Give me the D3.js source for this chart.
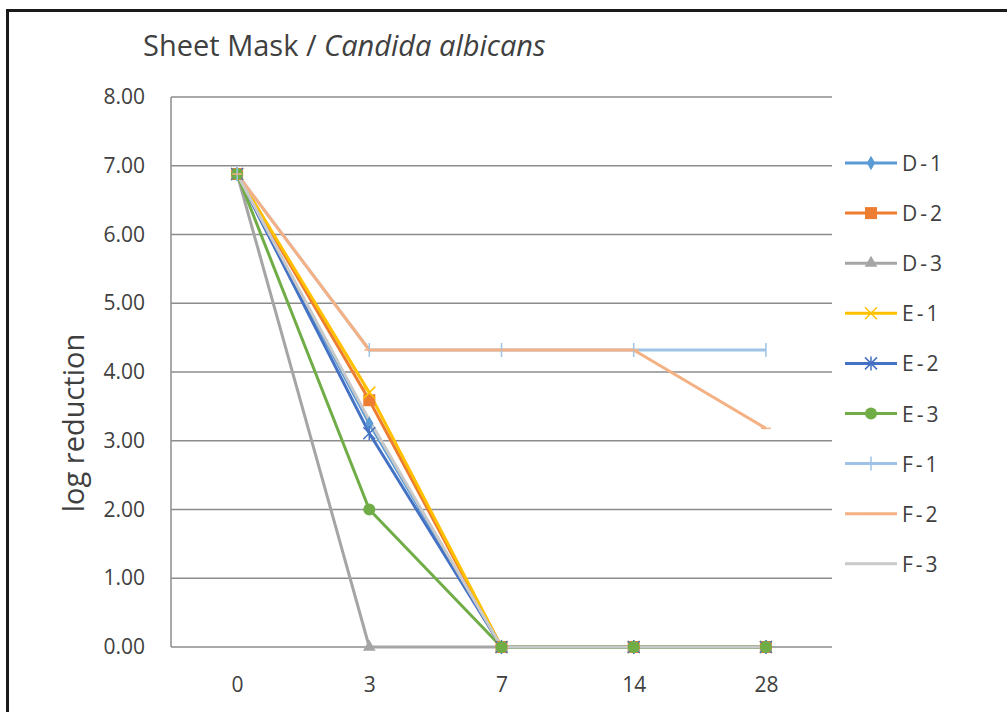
<!DOCTYPE html>
<html>
<head>
<meta charset="utf-8">
<script src="https://cdn.jsdelivr.net/npm/d3@7"></script>
<style>
  body { margin: 0; background: #fff; }
  text { font-family: "Open Sans", "Noto Sans", sans-serif; fill: #404040; }
</style>
</head>
<body>
<div id="chart"></div>
<script>
// days on x axis
var days = ["0", "3", "7", "14", "28"];
var seriesNames = ["D-1", "D-2", "D-3", "E-1", "E-2", "E-3", "F-1", "F-2", "F-3"];
var d1 = [6.88, 3.25, 0, 0, 0];
var d2 = [6.88, 3.59, 0, 0, 0];
var d3v = [6.88, 0, 0, 0, 0];
var e1 = [6.88, 3.70, 0, 0, 0];
var e2 = [6.88, 3.11, 0, 0, 0];
var e3 = [6.88, 2.00, 0, 0, 0];
var f1 = [6.88, 4.32, 4.32, 4.32, 4.32];
var f2 = [6.88, 4.32, 4.32, 4.32, 3.18];
var f3 = [6.88, 3.30, 0, 0, 0];
var yTicks = [0, 1, 2, 3, 4, 5, 6, 7, 8];

var colors = ["#5B9BD5", "#ED7D31", "#A5A5A5", "#FFC000", "#4472C4", "#70AD47", "#9DC3E6", "#F4B183", "#C9C9C9"];
var markers = ["diamond", "square", "triangle", "x", "star", "circle", "plus", "dash", "none"];
var allValues = [d1, d2, d3v, e1, e2, e3, f1, f2, f3];

var svgWidth = 1007, svgHeight = 712;
var svg = d3.select("#chart").append("svg")
  .attr("width", svgWidth)
  .attr("height", svgHeight);

// outer frame
svg.append("rect")
  .attr("x", 7.5).attr("y", 10.5)
  .attr("width", 1100).attr("height", 800)
  .attr("fill", "#fff")
  .attr("stroke", "#1a1a1a")
  .attr("stroke-width", 3);

var x = d3.scalePoint().domain(days).range([171, 832]).padding(0.5);
var y = d3.scaleLinear().domain([0, 8]).range([647, 97]);

// gridlines
svg.append("g").selectAll("line")
  .data(yTicks)
  .enter().append("line")
  .attr("x1", 171).attr("x2", 832)
  .attr("y1", d => y(d)).attr("y2", d => y(d))
  .attr("stroke", "#8c8c8c")
  .attr("stroke-width", 1.5);

// y axis line
svg.append("line")
  .attr("x1", 171).attr("x2", 171)
  .attr("y1", y(8)).attr("y2", y(0))
  .attr("stroke", "#8c8c8c")
  .attr("stroke-width", 1.5);

var leftAxis = d3.axisLeft(y).tickValues(yTicks).tickFormat(d3.format(".2f")).tickSize(0).tickPadding(26);
var gy = svg.append("g").attr("transform", "translate(171,0)").call(leftAxis);
gy.select(".domain").remove();
gy.selectAll("text").style("font-size", "21px").attr("fill", "#404040");

var bottomAxis = d3.axisBottom(x).tickSize(0).tickPadding(30);
var gx = svg.append("g").attr("transform", "translate(0,647)").call(bottomAxis);
gx.select(".domain").remove();
gx.selectAll("text").style("font-size", "21px").attr("fill", "#404040");

// title
var title = svg.append("text")
  .attr("x", 143).attr("y", 56)
  .style("font-size", "29px")
  .attr("fill", "#404040");
title.append("tspan").text("Sheet Mask / ");
title.append("tspan").style("font-style", "italic").text("Candida albicans");

// y label
svg.append("text")
  .attr("transform", "translate(84,423) rotate(-90)")
  .attr("text-anchor", "middle")
  .style("font-size", "29px")
  .attr("fill", "#404040")
  .text("log reduction");

var line = d3.line()
  .x((d, i) => x(days[i]))
  .y(d => y(d));

// lines
svg.append("g").selectAll("path")
  .data(allValues)
  .enter().append("path")
  .attr("d", d => line(d))
  .attr("fill", "none")
  .attr("stroke", (d, i) => colors[i])
  .attr("stroke-width", 3)
  .attr("stroke-linejoin", "round");

function drawMarker(g, type, color, cx, cy) {
  if (type == "none") return;
  if (type == "diamond") {
    g.append("path").attr("d", d3.symbol().type(d3.symbolDiamond).size(60)())
      .attr("transform", `translate(${cx},${cy})`).attr("fill", color);
  } else if (type == "square") {
    g.append("rect").attr("x", cx - 6).attr("y", cy - 6).attr("width", 12).attr("height", 12).attr("fill", color);
  } else if (type == "triangle") {
    g.append("path").attr("d", d3.symbol().type(d3.symbolTriangle).size(70)())
      .attr("transform", `translate(${cx},${cy})`).attr("fill", color);
  } else if (type == "circle") {
    g.append("circle").attr("cx", cx).attr("cy", cy).attr("r", 6).attr("fill", color);
  } else {
    var s = 6, p = "";
    if (type == "x" || type == "star") p += `M${cx - s},${cy - s}L${cx + s},${cy + s}M${cx - s},${cy + s}L${cx + s},${cy - s}`;
    if (type == "star" || type == "plus") p += `M${cx},${cy - s - 1}L${cx},${cy + s + 1}`;
    if (type == "dash") p += `M${cx - 5},${cy}L${cx + 5},${cy}`;
    g.append("path").attr("d", p).attr("stroke", color).attr("stroke-width", 1.5).attr("fill", "none");
  }
}

// markers
var markerGroup = svg.append("g");
allValues.forEach(function(vals, i) {
  vals.forEach(function(v, j) {
    drawMarker(markerGroup, markers[i], colors[i], x(days[j]), y(v));
  });
});

// legend
var legend = svg.append("g");
seriesNames.forEach(function(name, i) {
  var ly = 163 + i * 50.1;
  legend.append("line")
    .attr("x1", 845).attr("x2", 897)
    .attr("y1", ly).attr("y2", ly)
    .attr("stroke", colors[i]).attr("stroke-width", 3);
  drawMarker(legend, markers[i], colors[i], 871, ly);
  legend.append("text")
    .attr("x", 902).attr("y", ly + 8)
    .style("font-size", "21px")
    .style("letter-spacing", "3px")
    .attr("fill", "#404040")
    .text(name);
});
</script>
</body>
</html>
